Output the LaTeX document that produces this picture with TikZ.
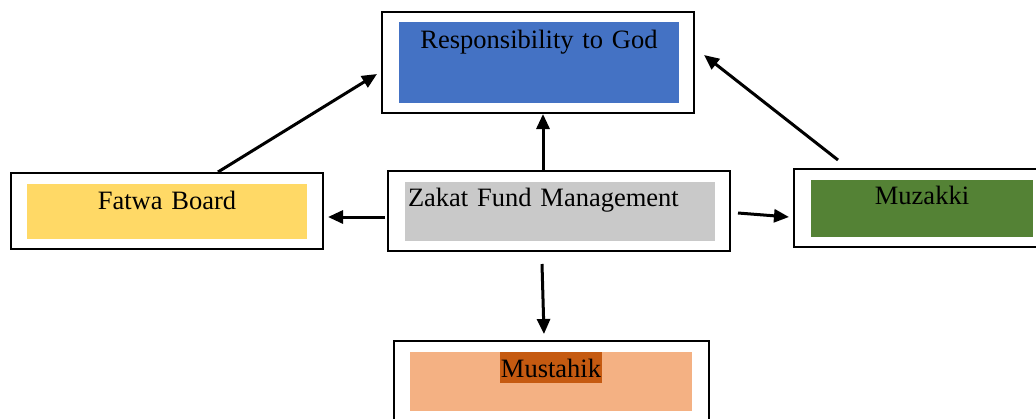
\documentclass[tikz,border=0pt]{standalone}
\usepackage{fontspec}
\setmainfont{Liberation Serif}
\usepackage{xcolor}
\usepackage{tikz}
\usetikzlibrary{arrows.meta, calc}
\definecolor{godblue}{HTML}{4472C4}
\definecolor{fatwagold}{HTML}{FFD966}
\definecolor{zakatgray}{HTML}{C9C9C9}
\definecolor{muzakkigreen}{HTML}{548235}
\definecolor{mustahiksalmon}{HTML}{F4B183}
\definecolor{mustahikrust}{HTML}{C55A11}
\tikzstyle{arrow} = [line width=3pt, -{Triangle[length=15pt, width=13pt]}]
\tikzstyle{frame} = [rectangle, draw=black, line width=2pt, inner sep=0pt]
\tikzstyle{panel} = [rectangle, inner sep=0pt, font=\fontsize{26.5}{30}\selectfont]

\begin{document}
\begin{tikzpicture}[x=1pt, y=-1pt]
\useasboundingbox (0,0) rectangle (1036,418);

\node[frame, minimum width=312, minimum height=101] (god) at (538,62.5) {};
\node[frame, minimum width=312, minimum height=76] (fatwa) at (167,211) {};
\node[frame, minimum width=342, minimum height=80] (zakat) at (559,211) {};
\node[frame, minimum width=256, minimum height=78] (muzakki) at (922,208) {};
\node[frame, minimum width=315, minimum height=81] (mustahik) at (551.5,381.5) {};

\node[panel, fill=godblue, text width=280, align=center, text height=26, text depth=55] (godpanel) at (539,62.5) {Responsibility to God};
\node[panel, fill=fatwagold, text width=280, align=center, text height=25, text depth=30] (fatwapanel) at (167,211.5) {Fatwa Board};
\node[panel, fill=zakatgray, inner xsep=3, text width=304, align=left, text height=24, text depth=35] (zakatpanel) at (560,211.5) {Zakat Fund Management};
\node[panel, fill=muzakkigreen, text width=222, align=center, text height=24, text depth=33] (muzakkipanel) at (922,208.5) {Muzakki};
\node[panel, fill=mustahiksalmon, minimum width=282, minimum height=59] (mustahikpanel) at (551,381.5) {};
\node[panel, fill=mustahikrust, inner xsep=0.5, text height=25, text depth=6, anchor=north] (mustahiklabel) at (mustahikpanel.north) {Mustahik};

\draw[arrow] ($(zakat.north)+(-16,0)$) -- ($(god.south)+(5,0)$);
\draw[arrow] ($(fatwa.north)+(51,0)$) -- ($(god.west)+(-4,11.5)$);
\draw[arrow] ($(muzakki.north)+(-84,-8)$) -- ($(god.east)+(9,-7.5)$);
\draw[arrow] ($(zakat.west)+(-2,6)$) -- ($(fatwa.east)+(4,6)$);
\draw[arrow] ($(zakat.east)+(7,2)$) -- ($(muzakki.west)+(-4,9)$);
\draw[arrow] ($(zakat.south)+(-17,12)$) -- ($(mustahik.north)+(-7.5,-6)$);

\end{tikzpicture}
\end{document}
